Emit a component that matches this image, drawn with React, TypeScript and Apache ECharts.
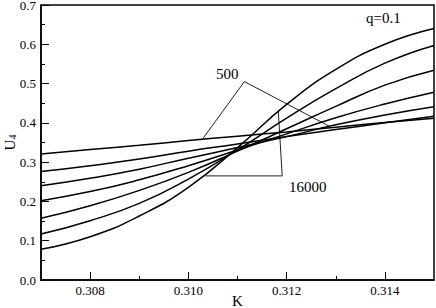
import React, { useEffect, useRef } from "react";
import * as echarts from "echarts";

const kValues = [0.307, 0.308, 0.309, 0.31, 0.311, 0.312, 0.313, 0.314, 0.315];
const seriesNames = ["500", "1000", "2000", "4000", "8000", "12000", "16000"];
const u500 = [0.321, 0.332, 0.343, 0.355, 0.366, 0.377, 0.389, 0.401, 0.412];
const u1000 = [0.276, 0.291, 0.308, 0.328, 0.346, 0.365, 0.383, 0.4, 0.417];
const u2000 = [0.24, 0.259, 0.282, 0.31, 0.337, 0.365, 0.395, 0.42, 0.441];
const u4000 = [0.202, 0.225, 0.255, 0.291, 0.331, 0.372, 0.413, 0.448, 0.478];
const u8000 = [0.157, 0.189, 0.228, 0.274, 0.328, 0.385, 0.442, 0.496, 0.534];
const u12000 = [0.117, 0.151, 0.195, 0.257, 0.331, 0.412, 0.487, 0.552, 0.597];
const u16000 = [0.078, 0.11, 0.163, 0.236, 0.337, 0.447, 0.536, 0.6, 0.64];
const seriesValues = [u500, u1000, u2000, u4000, u8000, u12000, u16000];

const xMajorTicks = [0.308, 0.31, 0.312, 0.314];
const xMinorTicks = [0.309, 0.311, 0.313];

const pointer500 = [[0.31029, 0.359], [0.31114, 0.505], [0.31286, 0.392]];
const pointer16000 = [[0.31035, 0.265], [0.31191, 0.265], [0.31183, 0.431]];

const FONT = "Liberation Serif";

export default function App() {
  const ref = useRef<HTMLDivElement>(null);
  useEffect(() => {
    const chart = echarts.init(ref.current!, null, { renderer: "svg" });
    const curveSeries = seriesValues.map((vals, i) => ({
      name: seriesNames[i],
      type: "line",
      smooth: 0.5,
      showSymbol: false,
      symbol: "none",
      lineStyle: { color: "#000", width: 1.5 },
      data: kValues.map((k, j) => [k, vals[j]]),
      z: 3,
    }));
    const pointerSeries = [pointer500, pointer16000].map((pts, i) => ({
      name: "pointer" + i,
      type: "line",
      symbol: "none",
      lineStyle: { color: "#222", width: 1 },
      data: pts,
      z: 2,
    }));
    chart.setOption({
      animation: false,
      textStyle: { fontFamily: FONT },
      grid: {
        left: 41,
        right: 2,
        top: 5,
        bottom: 28,
        containLabel: false,
        outerBoundsMode: "none",
        show: true,
        borderColor: "#000",
        borderWidth: 1.5,
      },
      xAxis: [
        {
          type: "value",
          min: 0.307,
          max: 0.315,
          interval: 0.001,
          name: "K",
          nameLocation: "middle",
          nameGap: 14,
          nameMoveOverlap: false,
          nameTextStyle: {
            fontFamily: FONT,
            fontSize: 15,
            lineHeight: 13,
            color: "#000",
            verticalAlign: "top",
          },
          axisLine: { show: true, lineStyle: { color: "#000", width: 1.5 } },
          axisTick: {
            show: true,
            inside: true,
            length: 8,
            customValues: xMajorTicks,
            lineStyle: { color: "#000", width: 1 },
          },
          axisLabel: {
            customValues: xMajorTicks,
            formatter: (v: number) => v.toFixed(3),
            fontFamily: FONT,
            fontSize: 13,
            color: "#000",
            margin: 4,
          },
          splitLine: { show: false },
        },
        {
          type: "value",
          min: 0.307,
          max: 0.315,
          interval: 0.001,
          position: "bottom",
          axisLine: { show: false },
          axisTick: {
            show: true,
            inside: true,
            length: 4,
            customValues: xMinorTicks,
            lineStyle: { color: "#000", width: 1 },
          },
          axisLabel: { show: false },
          splitLine: { show: false },
        },
      ],
      yAxis: {
        type: "value",
        min: 0,
        max: 0.7,
        interval: 0.1,
        name: "{a|U}{b|4}",
        nameLocation: "middle",
        nameGap: 24,
        nameMoveOverlap: false,
        nameTextStyle: {
          fontFamily: FONT,
          color: "#000",
          rich: {
            a: { fontFamily: FONT, fontSize: 15, lineHeight: 15, color: "#000" },
            b: { fontFamily: FONT, fontSize: 10, lineHeight: 10, color: "#000", verticalAlign: "bottom", padding: [5, 0, 0, 0] },
          },
        },
        axisLine: { show: true, lineStyle: { color: "#000", width: 1.5 } },
        axisTick: { show: true, inside: true, length: 8, lineStyle: { color: "#000", width: 1 } },
        minorTick: { show: true, splitNumber: 2, length: 4, lineStyle: { color: "#000", width: 1 } },
        axisLabel: {
          formatter: (v: number) => v.toFixed(1),
          fontFamily: FONT,
          fontSize: 13,
          lineHeight: 9,
          color: "#000",
          margin: 5,
        },
        splitLine: { show: false },
      },
      series: [...curveSeries, ...pointerSeries],
      graphic: [
        {
          type: "text",
          x: 366,
          y: 18,
          style: { text: "q=0.1", fontFamily: FONT, fontSize: 15, fill: "#000", textVerticalAlign: "middle" },
        },
        {
          type: "text",
          x: 216,
          y: 74,
          style: { text: "500", fontFamily: FONT, fontSize: 15, fill: "#000", textVerticalAlign: "middle" },
        },
        {
          type: "text",
          x: 289,
          y: 187,
          style: { text: "16000", fontFamily: FONT, fontSize: 15, fill: "#000", textVerticalAlign: "middle" },
        },
      ],
    });
    return () => chart.dispose();
  }, []);
  return (
    <div
      ref={ref}
      style={{ position: "absolute", left: 0, top: 0, width: 436, height: 308 }}
    />
  );
}
